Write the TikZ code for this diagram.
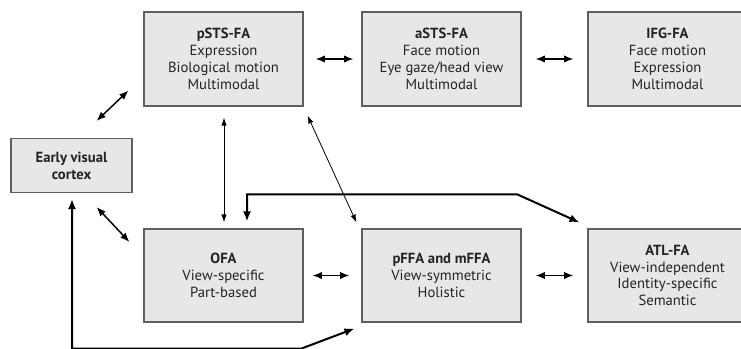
\documentclass[tikz,border=0pt]{standalone}
\usepackage{fontspec}
\setmainfont{PT Sans}
\usetikzlibrary{calc,arrows.meta}

\definecolor{boxfill}{RGB}{231,231,231}
\definecolor{boxline}{RGB}{95,95,95}
\definecolor{txt}{RGB}{35,35,35}

\tikzset{
	area/.style={draw=boxline, line width=0.8pt, fill=boxfill, text=txt, align=center,
		minimum width=119.25pt, minimum height=70.5pt, inner sep=0pt,
		font=\fontsize{11}{12.6}\selectfont},
	link/.style={line width=1.1pt, {Latex[length=7pt,width=5.5pt]}-{Latex[length=7pt,width=5.5pt]}},
	thinlink/.style={line width=0.6pt, {Latex[length=6pt,width=4pt]}-{Latex[length=6pt,width=4pt]}},
	heavylink/.style={line width=1.5pt, {Latex[length=7.5pt,width=6pt]}-{Latex[length=7.5pt,width=6pt]}}
}

\begin{document}
\begin{tikzpicture}[x=0.75pt, y=-0.75pt]
		%%%%% START %%%%%
		\clip (0, 0) rectangle (741, 349);
		
		\node[area] (psts) at (223.5, 59) {\textbf{pSTS-FA}\\Expression\\Biological motion\\Multimodal};
		\node[area] (asts) at (441.5, 59) {\textbf{aSTS-FA}\\Face motion\\Eye gaze/head view\\Multimodal};
		\node[area] (ifg) at (667.5, 59) {\textbf{IFG-FA}\\Face motion\\Expression\\Multimodal};
		
		\node[area, minimum width=90.75pt, minimum height=40.5pt] (evc) at (71.5, 165.5) {\textbf{Early visual}\\\textbf{cortex}};
		
		\node[area, minimum height=69.75pt] (ofa) at (223.5, 275.5) {\textbf{OFA}\\View-specific\\Part-based};
		\node[area, minimum height=69.75pt] (pffa) at (441.5, 275.5) {\textbf{pFFA and mFFA}\\View-symmetric\\Holistic};
		\node[area, minimum height=69.75pt] (atl) at (667.5, 275.5) {\textbf{ATL-FA}\\View-independent\\Identity-specific\\Semantic};
		
		% top row
		\draw[link] ($(psts.east)+(12, 0)$) -- ($(asts.west)+(-8, 0)$);
		\draw[link] ($(asts.east)+(14, 0)$) -- ($(ifg.west)+(-14, 0)$);
		
		% bottom row
		\draw[link] ($(ofa.east)+(9, 0)$) -- ($(pffa.west)+(-12, 0)$);
		\draw[link] ($(pffa.east)+(14, 0)$) -- ($(atl.west)+(-14, 0)$);
		
		% early visual cortex
		\draw[link] ($(evc.north east)+(-36, -17)$) -- ($(psts.south west)+(-15, -16)$);
		\draw[link] ($(evc.south east)+(-36, 14)$) -- ($(ofa.west)+(-14, -33.5)$);
		
		% pSTS down
		\draw[thinlink] ($(psts.south)+(0.5, 11)$) -- ($(ofa.north)+(0.5, -6)$);
		\draw[thinlink] ($(psts.south east)+(4, 9)$) -- ($(pffa.north west)+(-5, -6)$);
		
		% long loops
		\draw[heavylink] ($(ofa.north)+(23.5, -7)$) |- ($(atl.north west)+(-70, -34)$) -- ($(atl.north west)+(-8, -6)$);
		\draw[heavylink] ($(evc.south)+(0.5, 6)$) |- ($(pffa.south west)+(-60, 26)$) -- ($(pffa.south west)+(-7, 6)$);
		
		%%%%% END %%%%%
	\end{tikzpicture}
\end{document}
